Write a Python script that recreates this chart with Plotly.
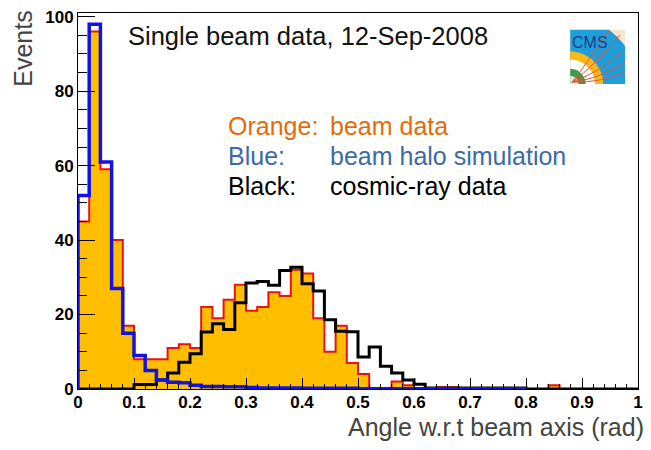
import numpy as np
import plotly.graph_objects as go

# ---- histogram contents: 50 bins of width 0.02 rad on [0, 1] ----
bin_lo, bin_hi, n_bins = 0.0, 1.0, 50

beam_data = [45, 96, 59, 40, 17, 8, 8, 8, 11, 12,
             11, 22, 19, 24, 28, 21, 22, 26, 25, 32,
             31, 19, 10, 17, 7, 4, 0, 0, 2, 1,
             0, 0, 0.5, 0.5, 0, 0, 0, 0, 0, 0,
             0, 0, 1, 0, 0, 0, 0, 0, 0, 0]

halo_sim = [52, 98, 61, 27, 15, 9, 5, 2.4, 1.8, 1.7,
            1.0, 0.7, 0.7, 0.6, 0.6, 0.4, 0.3, 0.3, 0.3, 0.3,
            0.2, 0.2, 0.2, 0.2, 0.2, 0.1, 0.1, 0.1, 0.1, 0.1,
            0.1, 0.1, 0.1, 0.1, 0.1, 0.1, 0.1, 0.1, 0.1, 0.1,
            0, 0, 0, 0, 0, 0, 0, 0, 0, 0]

cosmic_data = [0, 0, 0, 0, 0, 1.2, 1.2, 2.4, 4.3, 7.2,
               9.5, 15.3, 17.5, 16, 23.2, 28.5, 28.9, 27.9, 31.8, 32.7,
               28.3, 26.3, 18.6, 15.5, 15.4, 8.6, 11.3, 6.1, 4.3, 2.4,
               1.3, 0.3, 0.3, 0.3, 0.3, 0.3, 0.3, 0.3, 0.3, 0.3,
               0, 0, 0, 0, 0, 0, 0, 0, 0, 0]

x_ticks = [0, 0.1, 0.2, 0.3, 0.4, 0.5, 0.6, 0.7, 0.8, 0.9, 1]
x_tick_text = ["0", "0.1", "0.2", "0.3", "0.4", "0.5", "0.6", "0.7", "0.8", "0.9", "1"]
y_ticks = [0, 20, 40, 60, 80, 100]

edges = np.linspace(bin_lo, bin_hi, n_bins + 1)


def step_xy(values, last=None):
    """Outline of a histogram as an 'hv' polyline, dropping to zero at both ends."""
    vals = list(values) if last is None else list(values[:last + 1])
    xs = [edges[0]] + list(edges[:len(vals)]) + [edges[len(vals)]]
    ys = [0] + vals + [0]
    return xs, ys


fig = go.Figure()

# beam data: amber fill with red outline
bx, by = step_xy(beam_data)
fig.add_trace(go.Scatter(x=bx, y=by, mode="lines", line=dict(shape="hv", color="#EE1111", width=2),
                         fill="tozeroy", fillcolor="#FFBE00", hoverinfo="skip", showlegend=False))

# cosmic-ray data: thick black outline
cx, cy = step_xy(cosmic_data)
fig.add_trace(go.Scatter(x=cx, y=cy, mode="lines", line=dict(shape="hv", color="black", width=3),
                         hoverinfo="skip", showlegend=False))

# beam halo simulation: thick blue outline up to its last filled bin
last_halo = max(i for i, v in enumerate(halo_sim) if v > 0)
hx, hy = step_xy(halo_sim, last_halo)
fig.add_trace(go.Scatter(x=hx, y=hy, mode="lines", line=dict(shape="hv", color="#1212E6", width=3.5),
                         hoverinfo="skip", showlegend=False))

# ---- layout geometry (pixels) ----
W, H = 651, 450
L, R, T, B = 78, 11, 8, 61
PW, PH = W - L - R, H - T - B


def paper(px, py):
    return (px - L) / PW, (H - B - py) / PH


tick_font = dict(family="Liberation Sans, Arial, sans-serif", size=17, color="black", weight="bold")

fig.update_layout(
    width=W, height=H,
    margin=dict(l=L, r=R, t=T, b=B, pad=0),
    paper_bgcolor="white", plot_bgcolor="white",
    xaxis=dict(range=[bin_lo, bin_hi], tickvals=x_ticks, ticktext=x_tick_text,
               ticks="inside", ticklen=11, tickwidth=1, tickcolor="black",
               minor=dict(dtick=0.02, ticks="inside", ticklen=5.5, tickwidth=1, tickcolor="black", showgrid=False),
               showgrid=False, zeroline=False, showline=True, mirror=True,
               linecolor="black", linewidth=1, tickfont=tick_font, ticklabelstandoff=-2),
    yaxis=dict(range=[0, 101], tickvals=y_ticks,
               ticks="inside", ticklen=17, tickwidth=1, tickcolor="black",
               minor=dict(dtick=5, ticks="inside", ticklen=8.5, tickwidth=1, tickcolor="black", showgrid=False),
               showgrid=False, zeroline=False, showline=True, mirror=True,
               linecolor="black", linewidth=1, tickfont=tick_font, ticklabelstandoff=0),
)

text_font = "Liberation Sans, Arial, sans-serif"
annotations = []


def add_text(txt, px, py, size, color, xanchor="left", yanchor="middle", angle=0):
    x, y = paper(px, py)
    annotations.append(dict(text=txt, x=x, y=y, xref="paper", yref="paper", showarrow=False,
                            xanchor=xanchor, yanchor=yanchor, textangle=angle,
                            font=dict(family=text_font, size=size, color=color)))


add_text("Single beam data, 12-Sep-2008", 126, 31, 25.5, "#111111")

orange_txt, blue_txt = "#E46C0A", "#3C6AA6"
add_text("Orange:", 227, 122, 25, orange_txt)
add_text("beam data", 329, 122, 25, orange_txt)
add_text("Blue:", 227, 153, 25, blue_txt)
add_text("beam halo simulation", 329, 153, 25, blue_txt)
add_text("Black:", 227, 183, 25, "black")
add_text("cosmic-ray data", 329, 183, 25, "black")

add_text("Angle w.r.t beam axis (rad)", 648, 427, 25, "#444444", xanchor="right")
add_text("Events", 22, 44, 25, "#444444", xanchor="center", angle=-90)

# ---- small experiment logo in the upper right corner ----
LX0, LY0, LS = 572, 25, 55
LY1 = LY0 + LS
shapes = []


def path_from(points):
    pts = [paper(px, py) for px, py in points]
    return "M " + " L ".join(f"{x:.5f},{y:.5f}" for x, y in pts) + " Z"


def quarter_disk(radius, color):
    pts = [(LX0, LY1)]
    for t in np.linspace(0, np.pi / 2, 40):
        pts.append((LX0 + min(radius * np.cos(t), LS), LY1 - min(radius * np.sin(t), LS)))
    shapes.append(dict(type="path", path=path_from(pts), xref="paper", yref="paper",
                       fillcolor=color, line=dict(width=0), layer="above"))


x0, y0 = paper(LX0, LY1)
x1, y1 = paper(LX0 + LS, LY0)
shapes.append(dict(type="rect", x0=x0, y0=y0, x1=x1, y1=y1, xref="paper", yref="paper",
                   fillcolor="#FCE3CD", line=dict(width=0), layer="above"))
quarter_disk(1.22 * LS, "#1F9FD9")
quarter_disk(0.60 * LS, "#FDB913")
quarter_disk(0.45 * LS, "#FFFFFF")
quarter_disk(0.28 * LS, "#3A9B48")
quarter_disk(0.15 * LS, "#DDE8DD")

# curved tracks fanning out from the corner
for ex, ey, cxp, cyp in [(1.0, 0.22, 0.55, 0.02), (1.0, 0.40, 0.55, 0.10),
                         (0.98, 0.62, 0.50, 0.20), (0.90, 0.90, 0.45, 0.35), (0.72, 1.0, 0.35, 0.45)]:
    sx, sy = paper(LX0 + 2, LY1 - 2)
    qx, qy = paper(LX0 + cxp * LS, LY1 - cyp * LS)
    fx, fy = paper(LX0 + ex * LS, LY1 - ey * LS)
    shapes.append(dict(type="path", path=f"M {sx:.5f},{sy:.5f} Q {qx:.5f},{qy:.5f} {fx:.5f},{fy:.5f}",
                       xref="paper", yref="paper", line=dict(color="#E8523A", width=1), layer="above"))

add_text("CMS", 592, 38, 16, "#1E3C8A", xanchor="center")

fig.update_layout(annotations=annotations, shapes=shapes)

fig.write_html("out.html")
